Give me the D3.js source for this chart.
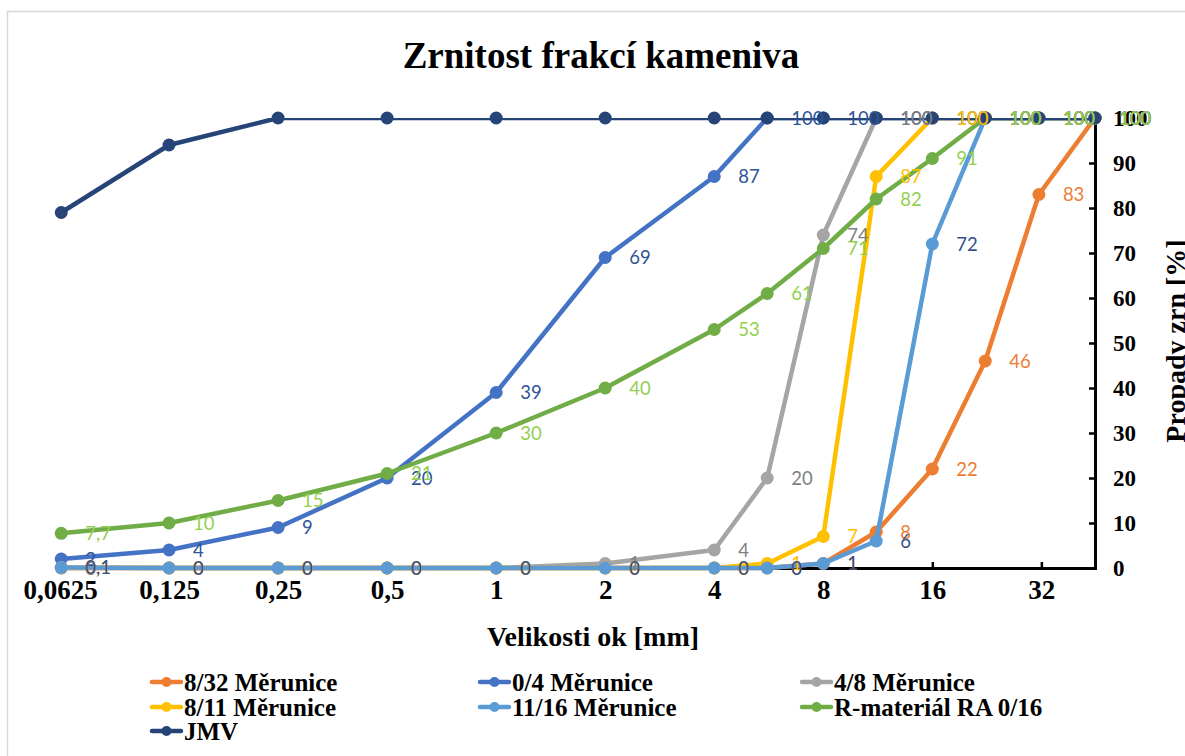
<!DOCTYPE html>
<html><head><meta charset="utf-8">
<script src="https://cdn.jsdelivr.net/npm/d3@7"></script>
<style>body{margin:0;background:#fff}</style>
</head><body><svg id="chart" width="1185" height="756"></svg>
<script>
// Sieve sizes (mm) and passing percentages per aggregate fraction
const sieves = [0.063, 0.125, 0.25, 0.5, 1, 2, 4, 5.6, 8, 11.2, 16, 22.4, 31.5, 45];
const xTicks = [0.0625, 0.125, 0.25, 0.5, 1, 2, 4, 8, 16, 32];
const xTickLabels = ["0,0625", "0,125", "0,25", "0,5", "1", "2", "4", "8", "16", "32"];
const yTicks = [0, 10, 20, 30, 40, 50, 60, 70, 80, 90, 100];

const names = ["8/32 Měrunice", "0/4 Měrunice", "4/8 Měrunice", "8/11 Měrunice", "11/16 Měrunice", "R-materiál RA 0/16", "JMV"];
const v832  = [0, 0, 0, 0, 0, 0, 0, 0, 1, 8, 22, 46, 83, 100];
const v04   = [2, 4, 9, 20, 39, 69, 87, 100, 100, 100, 100, 100, 100, 100];
const v48   = [0, 0, 0, 0, 0, 1, 4, 20, 74, 100, 100, 100, 100, 100];
const v811  = [0.1, 0, 0, 0, 0, 0, 0, 1, 7, 87, 100, 100, 100, 100];
const v1116 = [0.1, 0, 0, 0, 0, 0, 0, 0, 1, 6, 72, 100, 100, 100];
const vRA   = [7.7, 10, 15, 21, 30, 40, 53, 61, 71, 82, 91, 100, 100, 100];
const vJMV  = [79, 94, 100, 100, 100, 100, 100, 100, 100, 100, 100, 100, 100, 100];

const values = [v832, v04, v48, v811, v1116, vRA, vJMV];
const lineColors  = ["#ED7D31", "#4472C4", "#A5A5A5", "#FFC000", "#5B9BD5", "#70AD47", "#264478"];
const labelColors = ["#ED7D31", "#2F5597", "#808080", "#FFC000", "#34508A", "#92D050", null];

const serif = "'Liberation Serif','Times New Roman',serif";
const svg = d3.select("#chart");

// chart area frame
svg.append("rect").attr("x", 7.5).attr("y", 11.5).attr("width", 1200).attr("height", 800)
  .attr("fill", "#fff").attr("stroke", "#d9d9d9").attr("stroke-width", 1.5);

const x = d3.scaleLog().base(2).domain([0.0625, 45]).range([60, 1095]);
const y = d3.scaleLinear().domain([0, 100]).range([568, 118]);

// title
svg.append("text").attr("x", 601).attr("y", 68).attr("text-anchor", "middle")
  .attr("font-family", serif).attr("font-weight", "bold").attr("font-size", 37)
  .text("Zrnitost frakcí kameniva");

// x axis
const xAxis = svg.append("g").attr("transform", `translate(0,${y(0)})`)
  .call(d3.axisBottom(x).tickValues(xTicks).tickSize(-6).tickPadding(12)
    .tickFormat((d, i) => xTickLabels[i]));
xAxis.select(".domain").attr("stroke", "#000").attr("stroke-width", 3);
xAxis.selectAll(".tick line").attr("stroke", "#000").attr("stroke-width", 2.5);
xAxis.selectAll(".tick text").attr("font-family", serif).attr("font-weight", "bold")
  .attr("font-size", 27).attr("fill", "#000");

// right y axis
const yAxis = svg.append("g").attr("transform", `translate(${x(45)},0)`)
  .call(d3.axisRight(y).tickValues(yTicks).tickSize(-6).tickPadding(18));
yAxis.select(".domain").attr("stroke", "#000").attr("stroke-width", 3);
yAxis.selectAll(".tick line").attr("stroke", "#000").attr("stroke-width", 2.5);
yAxis.selectAll(".tick text").attr("font-family", serif).attr("font-weight", "bold")
  .attr("font-size", 23).attr("fill", "#000");

// axis titles
svg.append("text").attr("x", 593).attr("y", 646).attr("text-anchor", "middle")
  .attr("font-family", serif).attr("font-weight", "bold").attr("font-size", 28)
  .text("Velikosti ok [mm]");
svg.append("text").attr("transform", `translate(1185,341) rotate(-90)`).attr("text-anchor", "middle")
  .attr("font-family", serif).attr("font-weight", "bold").attr("font-size", 28)
  .text("Propady zrn [%]");

// series lines are clipped at the top of the plot area
svg.append("clipPath").attr("id", "plotClip").append("rect")
  .attr("x", 0).attr("y", y(100)).attr("width", 1185).attr("height", 756);

const line = d3.line().x((d, i) => x(sieves[i])).y(d => y(d));
const plot = svg.append("g");
values.forEach((vals, s) => {
  const g = plot.append("g");
  g.append("path").datum(vals).attr("d", line).attr("fill", "none")
    .attr("stroke", lineColors[s]).attr("stroke-width", 4.5)
    .attr("stroke-linejoin", "round").attr("clip-path", "url(#plotClip)");
  g.selectAll("circle").data(vals).join("circle")
    .attr("cx", (d, i) => x(sieves[i])).attr("cy", d => y(d)).attr("r", 6.5)
    .attr("fill", lineColors[s]);
});

// data labels
const fmt = v => String(v).replace(".", ",");
const labels = svg.append("g").attr("font-family", "Lato, 'Open Sans', sans-serif").attr("font-size", 18.5);
values.forEach((vals, s) => {
  if (!labelColors[s]) return;
  labels.append("g").selectAll("text").data(vals).join("text")
    .attr("x", (d, i) => x(sieves[i]) + 24).attr("y", d => y(d))
    .attr("dy", "0.36em").attr("fill", labelColors[s]).text(fmt);
});

// legend
const legendCols = [150, 478, 800];
const legendRows = [682, 707, 731];
const legend = svg.append("g");
names.forEach((n, i) => {
  const lx = legendCols[i % 3], ly = legendRows[Math.floor(i / 3)];
  const g = legend.append("g").attr("transform", `translate(${lx},${ly})`);
  g.append("line").attr("x1", 2).attr("x2", 31).attr("y1", 0).attr("y2", 0)
    .attr("stroke", lineColors[i]).attr("stroke-width", 4.5).attr("stroke-linecap", "round");
  g.append("circle").attr("cx", 16.5).attr("cy", 0).attr("r", 5).attr("fill", lineColors[i]);
  g.append("text").attr("x", 34).attr("y", 0).attr("dy", "0.34em")
    .attr("font-family", serif).attr("font-weight", "bold").attr("font-size", 25).text(n);
});
</script></body></html>
